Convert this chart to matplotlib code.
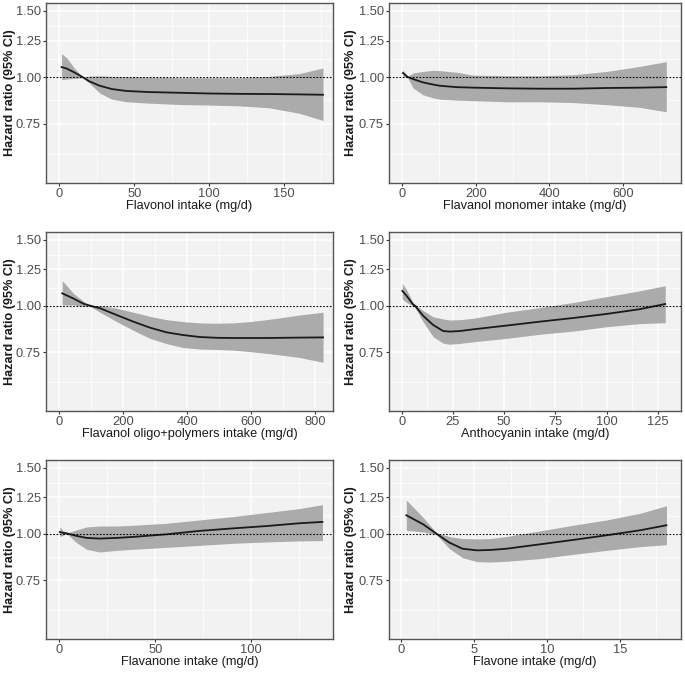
import numpy as np
import matplotlib
matplotlib.use("Agg")
import matplotlib.pyplot as plt
from matplotlib.ticker import FixedLocator, NullFormatter

# ---------------- data ----------------
flavonol_x  = [1.5, 5, 10, 15.5, 20, 27, 35, 45, 60, 80, 100, 120, 140, 160, 176]
flavonol_hr = [1.063, 1.053, 1.029, 1.0, 0.974, 0.948, 0.929, 0.918, 0.912, 0.908, 0.904, 0.902, 0.901, 0.899, 0.897]
flavonol_lo = [0.984, 0.988, 0.992, 0.996, 0.964, 0.906, 0.873, 0.859, 0.852, 0.845, 0.842, 0.838, 0.828, 0.801, 0.766]
flavonol_hi = [1.154, 1.124, 1.057, 1.0, 1.006, 1.008, 1.004, 1.002, 1.0, 0.996, 0.996, 0.996, 1.004, 1.021, 1.057]

monomer_x  = [2, 11, 15, 29, 56, 84, 102, 147, 193, 284, 375, 465, 556, 647, 718]
monomer_hr = [1.025, 1.008, 1.0, 0.988, 0.968, 0.955, 0.948, 0.940, 0.937, 0.933, 0.931, 0.931, 0.935, 0.937, 0.940]
monomer_lo = [1.0, 1.0, 0.996, 0.936, 0.897, 0.880, 0.873, 0.868, 0.865, 0.859, 0.859, 0.855, 0.844, 0.830, 0.808]
monomer_hi = [1.046, 1.012, 1.004, 1.025, 1.035, 1.042, 1.040, 1.030, 1.012, 1.008, 1.008, 1.014, 1.035, 1.068, 1.099]

oligo_x  = [9, 44, 75, 96, 127, 179, 231, 283, 335, 387, 439, 491, 543, 595, 647, 699, 751, 824]
oligo_hr = [1.079, 1.045, 1.012, 1.0, 0.984, 0.944, 0.906, 0.873, 0.848, 0.834, 0.824, 0.820, 0.819, 0.819, 0.819, 0.820, 0.821, 0.822]
oligo_lo = [1.004, 1.004, 0.996, 0.996, 0.960, 0.906, 0.859, 0.817, 0.791, 0.772, 0.765, 0.763, 0.760, 0.753, 0.745, 0.736, 0.726, 0.705]
oligo_hi = [1.167, 1.079, 1.028, 1.0, 1.0, 0.984, 0.960, 0.936, 0.917, 0.906, 0.899, 0.897, 0.899, 0.906, 0.917, 0.930, 0.944, 0.960]

antho_x  = [0.3, 2.3, 5.5, 6.4, 10.4, 15.3, 20.2, 23.5, 28.4, 35, 51, 67.5, 84, 100, 116, 128.6]
antho_hr = [1.095, 1.064, 1.008, 1.0, 0.940, 0.888, 0.855, 0.852, 0.855, 0.864, 0.884, 0.906, 0.927, 0.950, 0.978, 1.010]
antho_lo = [1.042, 1.020, 0.998, 0.992, 0.906, 0.826, 0.793, 0.788, 0.792, 0.800, 0.817, 0.838, 0.855, 0.878, 0.895, 0.900]
antho_hi = [1.148, 1.105, 1.020, 1.008, 0.970, 0.934, 0.921, 0.915, 0.917, 0.925, 0.960, 0.988, 1.020, 1.057, 1.095, 1.131]

flavanone_x  = [0.3, 2, 3.8, 9, 14.2, 21, 30, 38.5, 56, 73, 90.5, 108, 125, 137]
flavanone_hr = [1.010, 1.005, 1.002, 0.986, 0.974, 0.970, 0.974, 0.980, 0.996, 1.017, 1.033, 1.048, 1.066, 1.075]
flavanone_lo = [0.982, 0.990, 1.000, 0.946, 0.908, 0.893, 0.902, 0.908, 0.919, 0.930, 0.942, 0.950, 0.956, 0.958]
flavanone_hi = [1.042, 1.018, 1.004, 1.023, 1.042, 1.048, 1.048, 1.053, 1.066, 1.088, 1.111, 1.139, 1.167, 1.196]

flavone_x  = [0.34, 1.5, 2.4, 3.3, 4.2, 5.2, 6.1, 7.2, 9.5, 11.8, 14.1, 16.4, 18.2]
flavone_hr = [1.120, 1.059, 1.0, 0.946, 0.911, 0.902, 0.904, 0.911, 0.936, 0.962, 0.990, 1.021, 1.053]
flavone_lo = [1.021, 1.010, 0.994, 0.911, 0.862, 0.841, 0.839, 0.843, 0.857, 0.880, 0.902, 0.923, 0.934]
flavone_hi = [1.230, 1.104, 1.006, 0.982, 0.970, 0.968, 0.970, 0.982, 1.017, 1.053, 1.088, 1.134, 1.187]

x_labels = ["Flavonol intake (mg/d)", "Flavanol monomer intake (mg/d)",
            "Flavanol oligo+polymers intake (mg/d)", "Anthocyanin intake (mg/d)",
            "Flavanone intake (mg/d)", "Flavone intake (mg/d)"]
x_ticks = [[0, 50, 100, 150], [0, 200, 400, 600], [0, 200, 400, 600, 800],
           [0, 25, 50, 75, 100, 125], [0, 50, 100], [0, 5, 10, 15]]
x_minor = [[25, 75, 125, 175], [100, 300, 500, 700], [100, 300, 500, 700],
           [12.5, 37.5, 62.5, 87.5, 112.5], [25, 75, 125], [2.5, 7.5, 12.5, 17.5]]
x_lims = [(-8.9, 182.7), (-36, 758), (-41.6, 855), (-6.2, 136.3), (-6.9, 142.5), (-0.85, 19.2)]

y_ticks = [0.75, 1.00, 1.25, 1.50]
y_tick_labels = ["0.75", "1.00", "1.25", "1.50"]
y_minor = [0.625, 0.866, 1.118, 1.369]
y_lim = (0.522, 1.575)

series = [
    (flavonol_x, flavonol_hr, flavonol_lo, flavonol_hi),
    (monomer_x, monomer_hr, monomer_lo, monomer_hi),
    (oligo_x, oligo_hr, oligo_lo, oligo_hi),
    (antho_x, antho_hr, antho_lo, antho_hi),
    (flavanone_x, flavanone_hr, flavanone_lo, flavanone_hi),
    (flavone_x, flavone_hr, flavone_lo, flavone_hi),
]

# ---------------- figure ----------------
W, H = 685, 673
fig = plt.figure(figsize=(W / 100, H / 100), dpi=100)
plt.rcParams['font.family'] = ['Liberation Sans', 'DejaVu Sans']

cols = [(46, 333), (389, 681)]
rows = [(3, 183), (232, 411), (460, 639)]
ylabel_x = [10, 351]     # pixel centre of y-axis titles
xlabel_dy = 23           # pixel distance of x-title centre below panel

for i, (xs, hr, lo, hi) in enumerate(series):
    c = cols[i % 2]
    r = rows[i // 2]
    pw, ph = c[1] - c[0], r[1] - r[0]
    ax = fig.add_axes([c[0] / W, 1 - r[1] / H, pw / W, ph / H])
    ax.set_facecolor("#F2F2F2")
    ax.set_yscale("log")
    ax.set_ylim(*y_lim)
    ax.set_xlim(*x_lims[i])

    ax.yaxis.set_major_locator(FixedLocator(y_ticks))
    ax.set_yticklabels(y_tick_labels)
    ax.yaxis.set_minor_locator(FixedLocator(y_minor))
    ax.yaxis.set_minor_formatter(NullFormatter())
    ax.set_xticks(x_ticks[i])
    ax.set_xticks(x_minor[i], minor=True)

    ax.grid(True, which="major", color="white", linewidth=1.1)
    ax.grid(True, which="minor", color="white", linewidth=0.55)
    ax.set_axisbelow(True)

    ax.tick_params(which="minor", length=0)
    ax.tick_params(which="major", length=2.5, width=0.8, color="#333333",
                   labelcolor="#4D4D4D", labelsize=9.3, pad=1.2)

    for s in ax.spines.values():
        s.set_color("#555555")
        s.set_linewidth(1.0)

    ax.fill_between(xs, lo, hi, color="#ABABAB", linewidth=0, zorder=2)
    ax.plot(xs, hr, color="#1A1A1A", linewidth=1.3, zorder=3)
    ax.axhline(1.0, color="black", linestyle=(0, (1.5, 1.5)), linewidth=0.8, zorder=4)

    ax.set_xlabel(x_labels[i], fontsize=9.2, color="#1A1A1A")
    ax.xaxis.set_label_coords(0.5, -xlabel_dy / ph)
    ax.xaxis.label.set_va("center")
    ax.set_ylabel("Hazard ratio (95% CI)", fontsize=9.1, color="#1A1A1A",
                  fontweight="bold")
    ax.yaxis.set_label_coords((ylabel_x[i % 2] - c[0]) / pw, 0.5)
    ax.yaxis.label.set_va("center")

fig.savefig("out.png", dpi=100, facecolor="white")
